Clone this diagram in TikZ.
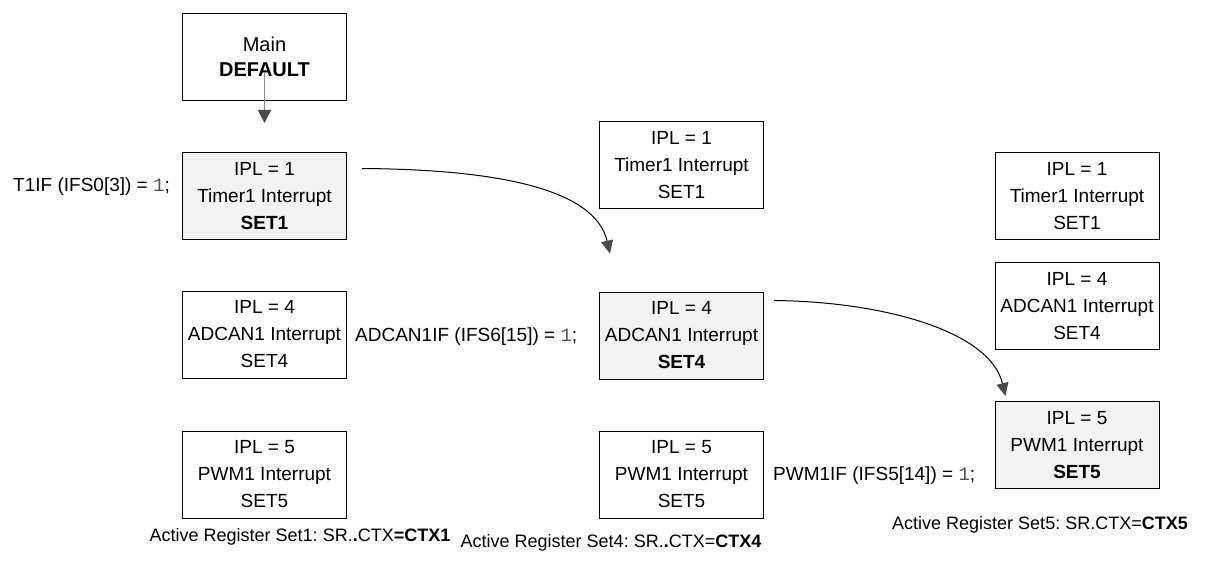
\documentclass[tikz,border=0pt]{standalone}
\usepackage{fontspec}
\setmainfont{Liberation Sans}
\newfontfamily\codefont{Liberation Mono}
\usepackage{xcolor}
\usetikzlibrary{arrows.meta,positioning,calc}
\definecolor{setfill}{HTML}{F3F3F3}
\definecolor{arrowgray}{HTML}{8A8A8A}
\definecolor{headgray}{HTML}{4A4A4A}
\definecolor{codegray}{HTML}{555555}
\frenchspacing
\tikzset{
  setbox/.style={draw, line width=1, minimum width=164, minimum height=87, inner sep=0, align=center, font=\fontsize{19}{27}\selectfont},
  activebox/.style={setbox, fill=setfill},
  flaglabel/.style={inner sep=0, font=\fontsize{19}{23}\selectfont},
  ctxlabel/.style={inner sep=0, font=\fontsize{18}{22}\selectfont},
  switcharrow/.style={line width=1, -{Triangle[length=13pt,width=12pt,color=headgray,fill=headgray]}}
}
\newcommand{\codeone}{{\codefont\color{codegray}1}}

\begin{document}
\begin{tikzpicture}[x=1pt,y=1pt,yscale=-1,xscale=1]
\useasboundingbox (0,0) rectangle (1214,577);

% Main box
\node [setbox, font=\fontsize{20}{25}\selectfont] (mainbox) at (264.5,57) {Main\\\textbf{DEFAULT}};

% Column 1: Set1 active
\node [activebox] (s1timer) at (264.5,196.5) {IPL = 1\\Timer1 Interrupt\\\textbf{SET1}};
\node [setbox] (s1adc) at (264.5,334.5) {IPL = 4\\ADCAN1 Interrupt\\SET4};
\node [setbox] (s1pwm) at (264.5,474.5) {IPL = 5\\PWM1 Interrupt\\SET5};

% Column 2: Set4 active
\node [setbox] (s4timer) at (681.5,165.5) {IPL = 1\\Timer1 Interrupt\\SET1};
\node [activebox] (s4adc) at (681.5,335.5) {IPL = 4\\ADCAN1 Interrupt\\\textbf{SET4}};
\node [setbox] (s4pwm) at (681.5,474.5) {IPL = 5\\PWM1 Interrupt\\SET5};

% Column 3: Set5 active
\node [setbox] (s5timer) at (1077,196) {IPL = 1\\Timer1 Interrupt\\SET1};
\node [setbox] (s5adc) at (1077,306) {IPL = 4\\ADCAN1 Interrupt\\SET4};
\node [activebox] (s5pwm) at (1077,445) {IPL = 5\\PWM1 Interrupt\\\textbf{SET5}};

% Flag labels
\node [flaglabel, anchor=east] (t1flag) at (170,187) {T1IF (IFS0[3]) = \codeone;};
\node [flaglabel, anchor=west] (adcflag) at (355,337) {ADCAN1IF (IFS6[15]) = \codeone;};
\node [flaglabel, anchor=west] (pwmflag) at (773,476) {PWM1IF (IFS5[14]) = \codeone;};

% Active register labels
\node [ctxlabel] (ctxone) at (300,537) {Active Register Set1: SR.\textbf{.}CTX\textbf{=CTX1}};
\node [ctxlabel] (ctxfour) at (611,543) {Active Register Set4: SR.\textbf{.}CTX=\textbf{CTX4}};
\node [ctxlabel] (ctxfive) at (1040,525) {Active Register Set5: SR.CTX=\textbf{CTX5}};

%Straight Lines
\draw [arrowgray, line width=1.6, -{Triangle[length=13pt,width=13pt,color=headgray,fill=headgray]}] ($(mainbox.center)+(0,16)$) -- ($(mainbox.south)+(0,22)$);

%Curve Lines
\draw [switcharrow] ($(s1timer.north east)+(15,16)$) .. controls +(138,1) and +(-15,-64) .. ($(s4adc.north west)+(11,-38)$);
\draw [switcharrow] ($(s4adc.north east)+(10,9)$) .. controls +(106,1) and +(-16,-66) .. ($(s5pwm.north west)+(11,-5)$);

\end{tikzpicture}
\end{document}
